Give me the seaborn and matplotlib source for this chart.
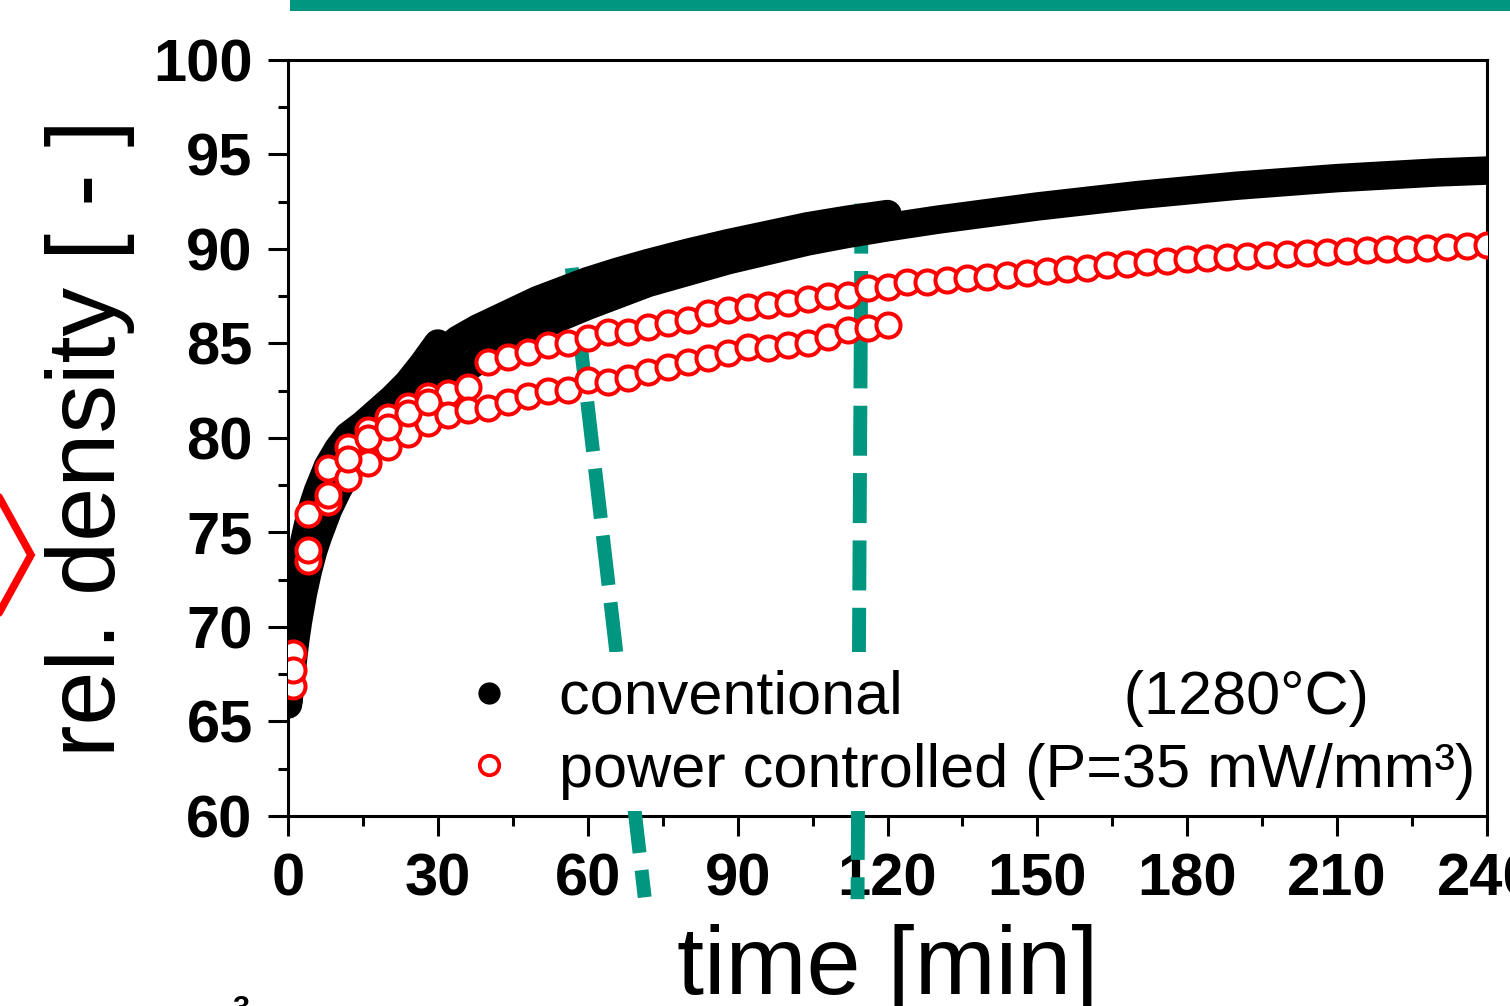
import matplotlib
matplotlib.use("Agg")
import matplotlib.pyplot as plt
from matplotlib.lines import Line2D
from matplotlib.patches import Rectangle
import seaborn as sns

# ---- conventional sintering at 1280 °C: three runs with different hold times ----
conv_240_t = [0, 0.5, 1, 1.5, 2, 3, 4, 5, 6, 8, 10, 12, 15, 18, 21, 24, 27, 30, 34, 38,
              42, 46, 50, 55, 60, 66, 72, 80, 88, 96, 104, 112, 120, 130, 140, 150, 160,
              170, 180, 190, 200, 210, 220, 230, 240]
conv_240_rho = [65.9, 67.0, 68.3, 69.4, 70.3, 71.8, 73.0, 74.0, 74.8, 76.2, 77.3, 78.2,
                79.3, 80.0, 80.6, 81.2, 81.9, 82.6, 83.4, 84.1, 84.7, 85.3, 85.85, 86.45,
                87.0, 87.6, 88.2, 88.8, 89.4, 89.9, 90.4, 90.8, 91.15, 91.55, 91.9, 92.25,
                92.55, 92.85, 93.1, 93.35, 93.55, 93.75, 93.9, 94.05, 94.15]

conv_120_t = [0, 0.5, 1, 1.5, 2, 3, 4, 5, 6, 8, 10, 12, 15, 18, 21, 24, 27, 30, 34, 38,
              42, 46, 50, 55, 60, 66, 72, 80, 88, 96, 104, 112, 120]
conv_120_rho = [66.0, 68.0, 69.8, 71.1, 72.2, 73.9, 75.1, 76.1, 77.0, 78.3, 79.1, 79.8,
                80.5, 81.2, 81.9, 82.6, 83.4, 84.3, 85.2, 85.8, 86.3, 86.8, 87.3, 87.8,
                88.3, 88.8, 89.25, 89.8, 90.3, 90.75, 91.2, 91.55, 91.85]

conv_30_t = [0, 0.5, 1, 1.5, 2, 3, 4, 5, 6, 8, 10, 12, 15, 18, 21, 24, 27, 30]
conv_30_rho = [66.0, 68.2, 70.0, 71.4, 72.5, 74.2, 75.4, 76.4, 77.2, 78.5, 79.4, 80.1,
               80.7, 81.4, 82.1, 82.9, 83.9, 85.0]

# ---- power controlled runs (P = 35 mW/mm³), sampled every 4 min ----
pc_240_t = [1] + list(range(4, 241, 4))
pc_240_rho = [68.6, 76.0, 78.4, 79.5, 80.4, 81.1, 81.7, 82.2, 82.4, 82.7,
              84.0, 84.3, 84.55, 84.9, 85.05, 85.3, 85.6, 85.6, 85.85, 86.1,
              86.25, 86.6, 86.75, 86.95, 87.05, 87.15, 87.35, 87.5, 87.55, 87.95,
              88.0, 88.25, 88.25, 88.35, 88.45, 88.5, 88.6, 88.75, 88.85, 88.95,
              89.0, 89.15, 89.2, 89.3, 89.35, 89.45, 89.55, 89.6, 89.65, 89.7,
              89.75, 89.8, 89.85, 89.9, 89.95, 90.0, 90.0, 90.05, 90.1, 90.15, 90.2]

pc_120_t = [1] + list(range(4, 121, 4))
pc_120_rho = [66.9, 73.5, 76.6, 77.9, 78.7, 79.5, 80.2, 80.8, 81.2, 81.5,
              81.6, 81.9, 82.2, 82.5, 82.55, 83.05, 82.95, 83.2, 83.5, 83.75,
              84.0, 84.25, 84.5, 84.8, 84.75, 84.9, 85.05, 85.35, 85.7, 85.8, 86.0]

pc_28_t = [1, 4, 8, 12, 16, 20, 24, 28]
pc_28_rho = [67.7, 74.1, 77.0, 78.9, 80.0, 80.6, 81.3, 81.9]

x_ticks = [0, 30, 60, 90, 120, 150, 180, 210, 240]
y_ticks = [60, 65, 70, 75, 80, 85, 90, 95, 100]

label_conv = "conventional" + " " * 13 + "(1280°C)"
label_pc = "power controlled (P=35 mW/mm³)"

TEAL = "#00967f"
RED = "#ff0000"

sns.set_theme(style="ticks")
plt.rcParams["font.family"] = ["Liberation Sans", "DejaVu Sans"]
plt.rcParams["text.color"] = "black"
plt.rcParams["axes.labelcolor"] = "black"
plt.rcParams["xtick.color"] = "black"
plt.rcParams["ytick.color"] = "black"

W, H = 1510, 1006
fig = plt.figure(figsize=(W / 100, H / 100), dpi=100)
ax = fig.add_axes([288 / W, (H - 816) / H, (1487 - 288) / W, (816 - 60) / H])
ax.set_facecolor("white")

# conventional runs: densely sampled, drawn as thick black bands
for t, rho in [(conv_240_t, conv_240_rho), (conv_120_t, conv_120_rho), (conv_30_t, conv_30_rho)]:
    sns.lineplot(x=t, y=rho, ax=ax, color="black", linewidth=20.5, legend=False,
                 solid_capstyle="round", solid_joinstyle="round", zorder=3)

# power controlled runs: open red circles
for t, rho in [(pc_240_t, pc_240_rho), (pc_120_t, pc_120_rho), (pc_28_t, pc_28_rho)]:
    sns.scatterplot(x=t, y=rho, ax=ax, marker="o", s=300, facecolor="white",
                    edgecolor=RED, linewidth=2.9, legend=False, zorder=4)

ax.set_xlim(0, 240)
ax.set_ylim(60, 100)
ax.set_xticks(x_ticks)
ax.set_yticks(y_ticks)
ax.set_xticks([t + 15 for t in x_ticks[:-1]], minor=True)
ax.set_yticks([v + 2.5 for v in y_ticks[:-1]], minor=True)
ax.set_xticklabels([str(v) for v in x_ticks], fontsize=43, fontweight="bold")
ax.set_yticklabels([str(v) for v in y_ticks], fontsize=43, fontweight="bold")
ax.tick_params(axis="both", which="major", direction="out", length=14.4, width=2.2,
               colors="black", top=False, right=False)
ax.tick_params(axis="both", which="minor", direction="out", length=7.2, width=2.2,
               colors="black", top=False, right=False)
ax.tick_params(axis="x", which="major", pad=12)
ax.tick_params(axis="y", which="major", pad=11)
for side in ["left", "right", "top", "bottom"]:
    ax.spines[side].set_visible(True)
    ax.spines[side].set_linewidth(2.2)
    ax.spines[side].set_color("black")

ax.set_xlabel("time [min]", fontsize=70, labelpad=12)
ax.set_ylabel("rel. density [ - ]", fontsize=70, labelpad=13)

# dashed teal connectors to the neighbouring panel
dash = dict(color=TEAL, linewidth=10, dashes=(3.6, 1.25), dash_capstyle="butt",
            clip_on=False, zorder=2.6)
ax.plot([56.8, 71.4], [89.0, 55.7], **dash)
ax.plot([114.8, 114.0], [92.4, 55.6], **dash)

# white backing behind the legend entries
ax.add_patch(Rectangle((440 / W, 1 - 811 / H), (1483 - 440) / W, (811 - 652) / H,
                       transform=fig.transFigure, facecolor="white", edgecolor="none",
                       clip_on=False, zorder=2.65))

handles = [
    Line2D([], [], linestyle="none", marker="o", markersize=15, markerfacecolor="black",
           markeredgecolor="black"),
    Line2D([], [], linestyle="none", marker="o", markersize=14, markerfacecolor="white",
           markeredgecolor=RED, markeredgewidth=2.7),
]
leg = ax.legend(handles, [label_conv, label_pc], loc="upper left",
                bbox_to_anchor=(440 / W, 1 - 652 / H), bbox_transform=fig.transFigure,
                prop={"size": 44}, handlelength=1.0, handletextpad=0.65,
                labelspacing=0.25, borderpad=0.3, borderaxespad=0, frameon=False)
leg.set_zorder(5)

# pieces of the surrounding figure
fig.add_artist(Rectangle((290 / W, 1 - 11 / H), (W - 290) / W, 11 / H,
                         transform=fig.transFigure, color=TEAL, lw=0))
fig.add_artist(Line2D([-6 / W, 31 / W, -6 / W], [1 - 488 / H, 1 - 555 / H, 1 - 622 / H],
                      transform=fig.transFigure, color=RED, linewidth=5.5,
                      solid_joinstyle="miter"))
fig.text(241 / W, (H - 1018) / H, "3", fontsize=22, fontweight="bold", ha="center",
         va="baseline")

fig.savefig("out.png", dpi=100, facecolor="white")
